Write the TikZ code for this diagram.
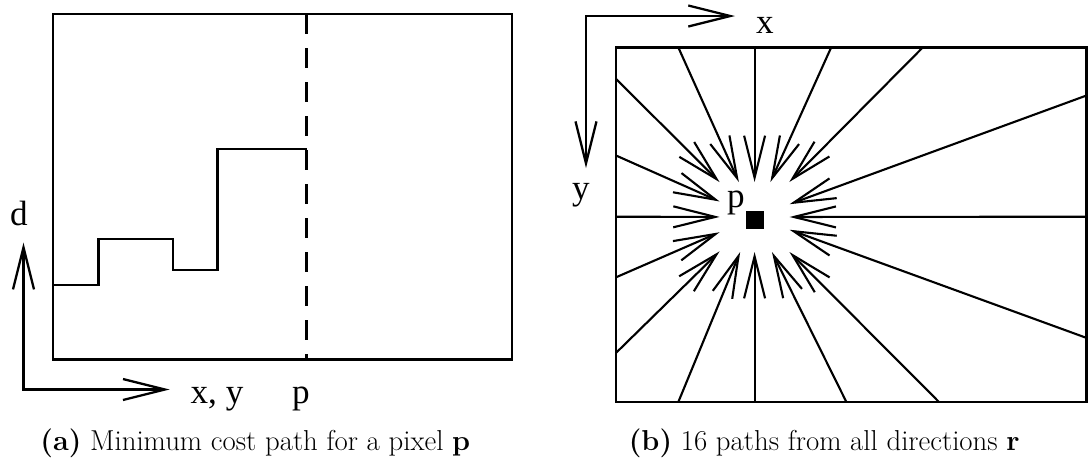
\documentclass[tikz,border=0pt]{standalone}
\usepackage{fontspec}
\newfontfamily\figfont{Liberation Serif}
\usetikzlibrary{arrows.meta,positioning,calc}

\begin{document}
\begin{tikzpicture}[
  x=0.02cm, y=-0.02cm,
  >={Straight Barb[length=0.84cm,width=0.42cm]},
  frame/.style={draw=black, line width=1.3pt},
  ray/.style={->, line width=1.2pt, draw=black},
  axisline/.style={<->, line width=1.3pt, draw=black},
  labelbox/.style={font=\figfont\fontsize{20}{24}\selectfont, inner sep=0pt, anchor=base},
  capbox/.style={font=\fontsize{16.4}{20}\selectfont, inner sep=0pt, anchor=base}
]
  \useasboundingbox (0,0) rectangle (1089,464);

  % (a) minimum cost path
  \draw[frame] (53,14.3) rectangle (512,359.5);
  \draw[frame, dash pattern=on 0.4cm off 0.28cm] (306.5,14.3) -- (306.5,359.5);
  \draw[frame] (53,285.3) -| (98.4,239.3) -| (173.2,269.7) -| (217.5,149.3) -- (306.5,149.3);

  \coordinate (dtip) at (23.5,242.7);
  \coordinate (xytip) at (169.7,389.5);
  \draw[axisline] (dtip) |- (xytip);
  \node[labelbox] (dlab) at (19,225) {d};
  \node[labelbox] (xylab) at (217,403) {x, y};
  \node[labelbox] (plab) at (301,403) {p};

  \node[capbox] (capa) at (255.3,450.7) {\textbf{(a)} Minimum cost path for a pixel \textbf{p}};

  % (b) 16 paths
  \draw[frame] (616,47.6) rectangle (1086.5,401.8);
  \coordinate (c) at (754.6,217);
  \node[draw, fill, minimum size=0.34cm, inner sep=0pt] (pix) at (754.5,219.5) {};
  \node[labelbox] (plabb) at (736,207) {p};

  \foreach \bx/\by [count=\i] in {678.4/47.6, 754.6/47.6, 831.1/47.6, 922.6/47.6,
      616/78.9, 616/155.5, 616/216.7, 616/277.3, 616/352.9,
      678.4/401.8, 754.6/401.8, 846.3/401.8, 938.8/401.8,
      1086.5/95.5, 1086.5/216.7, 1086.5/337.9} {
    \pgfmathsetmacro\dx{\bx-754.6}
    \pgfmathsetmacro\dy{\by-217}
    \pgfmathsetmacro\m{max(abs(\dx),abs(\dy))}
    \coordinate (r\i) at (\bx,\by);
    \coordinate (t\i) at ({754.6+35*\dx/\m},{217+35*\dy/\m});
    \draw[ray] (r\i) -- (t\i);
  }

  \coordinate (ytip) at (586,168.1);
  \coordinate (xtip) at (735,16);
  \draw[axisline] (ytip) |- (xtip);
  \node[labelbox] (xlab) at (765,33.3) {x};
  \node[labelbox] (ylab) at (581,199.7) {y};

  \node[capbox] (capb) at (824.3,450.5) {\textbf{(b)} 16 paths from all directions \textbf{r}};
\end{tikzpicture}
\end{document}
